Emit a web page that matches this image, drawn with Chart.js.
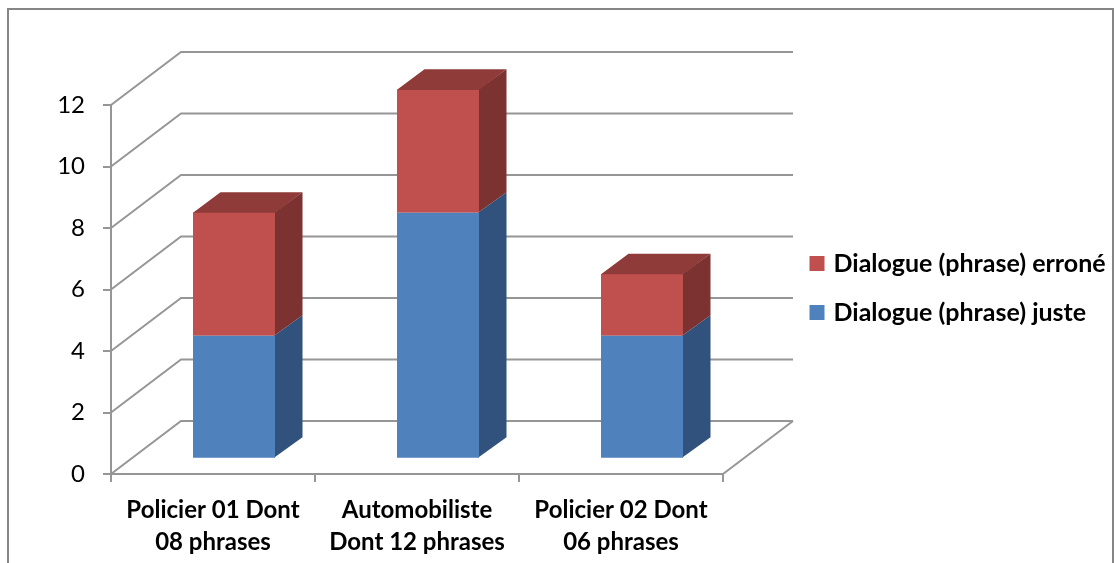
<!DOCTYPE html>
<html lang="fr">

<head>
   <meta charset="UTF-8">
   <title>Dialogues par personnage</title>
   <script src="https://cdn.jsdelivr.net/npm/chart.js@4"></script>
   <style>
      html, body { margin: 0; padding: 0; background: #fff; overflow: hidden; }
      .chart-container { position: relative; width: 1115px; height: 563px; }
      .frame { position: absolute; left: 7px; top: 8px; width: 1103px; height: 600px; border: 2px solid #868686; }
   </style>
</head>

<body>
   <div class="chart-container">
      <div class="frame"></div>
      <canvas id="myChart" width="1115" height="563" style="position:absolute;left:0;top:0"></canvas>
   </div>
   <script>
      const categories = [['Policier 01 Dont', '08 phrases'], ['Automobiliste', 'Dont 12 phrases'], ['Policier 02 Dont', '06 phrases']];
      const justeValues = [4, 8, 4];
      const erroneValues = [4, 4, 2];
      const yTicks = [0, 2, 4, 6, 8, 10, 12];

      const gridColor = '#969696';
      const fontName = 'Lato, "Open Sans", sans-serif';

      // depth of the box the chart sits in, and of each column
      const wallDx = 70, wallDy = -53;
      const barDx = 21, barDy = -15.2;
      const sideDx = 27.5, sideDy = -20.5;

      const faceColors = [
         { side: '#31527c' },
         { side: '#7b3230', top: '#8e3b39' }
      ];

      // side and top faces are drawn around the bars chart.js lays out
      const depthPlugin = {
         id: 'depth',
         afterLayout(chart) {
            // legend sits right of the box, outside the plot area
            const legend = chart.legend;
            const pad = chart.options.plugins.legend.labels.padding;
            legend.left = 813 - pad;
            legend.top = 251 - pad;
            legend.right = 1115;
            legend.bottom = 400;
         },
         beforeDatasetsDraw(chart) {
            const { ctx, chartArea, scales } = chart;

            ctx.save();
            ctx.strokeStyle = gridColor;
            ctx.lineWidth = 2;
            ctx.lineJoin = 'miter';
            yTicks.forEach(tick => {
               const y = scales.y.getPixelForValue(tick);
               ctx.beginPath();
               ctx.moveTo(chartArea.left, y);
               ctx.lineTo(chartArea.left + wallDx, y + wallDy);
               ctx.lineTo(chartArea.right + wallDx, y + wallDy);
               ctx.stroke();
            });
            const floorY = scales.y.getPixelForValue(0);
            ctx.beginPath();
            ctx.moveTo(chartArea.right, floorY);
            ctx.lineTo(chartArea.right + wallDx, floorY + wallDy);
            ctx.stroke();
            ctx.restore();

            // shift columns back from the front edge of the floor
            ctx.save();
            ctx.translate(barDx, barDy);
            chart.data.datasets.forEach((dataset, d) => {
               chart.getDatasetMeta(d).data.forEach(bar => {
                  const right = bar.x + bar.width / 2;
                  const left = bar.x - bar.width / 2;
                  // faces run 1px under the front so no seam shows
                  ctx.fillStyle = faceColors[d].side;
                  ctx.beginPath();
                  ctx.moveTo(right - 1, bar.base);
                  ctx.lineTo(right + sideDx, bar.base + sideDy);
                  ctx.lineTo(right + sideDx, bar.y + sideDy);
                  ctx.lineTo(right - 1, bar.y);
                  ctx.closePath();
                  ctx.fill();
                  if (faceColors[d].top) {
                     ctx.fillStyle = faceColors[d].top;
                     ctx.beginPath();
                     ctx.moveTo(left, bar.y + 1);
                     ctx.lineTo(left, bar.y);
                     ctx.lineTo(left + sideDx, bar.y + sideDy);
                     ctx.lineTo(right + sideDx, bar.y + sideDy);
                     ctx.lineTo(right, bar.y);
                     ctx.lineTo(right, bar.y + 1);
                     ctx.closePath();
                     ctx.fill();
                  }
               });
            });
         },
         afterDatasetsDraw(chart) {
            chart.ctx.restore();
         }
      };

      new Chart(document.getElementById('myChart'), {
         type: 'bar',
         data: {
            labels: categories,
            datasets: [{
               label: 'Dialogue (phrase) juste',
               data: justeValues,
               backgroundColor: '#4f81bd',
               barPercentage: 0.402,
               categoryPercentage: 1
            }, {
               label: 'Dialogue (phrase) erroné',
               data: erroneValues,
               backgroundColor: '#c0504d',
               barPercentage: 0.402,
               categoryPercentage: 1
            }]
         },
         plugins: [depthPlugin],
         options: {
            responsive: false,
            animation: false,
            layout: { padding: { left: 0, top: 105, right: 392, bottom: 0 } },
            plugins: {
               tooltip: { enabled: false },
               legend: {
                  position: 'chartArea',
                  align: 'start',
                  reverse: true,
                  labels: {
                     boxWidth: 8,
                     boxHeight: 8,
                     padding: 24,
                     color: '#000',
                     font: { family: fontName, size: 25, weight: 'bold', lineHeight: 1 },
                     generateLabels(chart) {
                        // thick outline gives a 15px swatch with a tight text gap
                        return Chart.defaults.plugins.legend.labels.generateLabels(chart).map(item => {
                           item.strokeStyle = item.fillStyle;
                           item.lineWidth = 7;
                           return item;
                        });
                     }
                  }
               }
            },
            scales: {
               x: {
                  stacked: true,
                  afterFit(scale) { scale.height = 89; },
                  border: { color: gridColor, width: 2 },
                  grid: { drawOnChartArea: false, color: gridColor, lineWidth: 2, tickLength: 8 },
                  ticks: {
                     color: '#000',
                     padding: 12,
                     maxRotation: 0,
                     font: { family: fontName, size: 24, weight: 'bold', lineHeight: 1.33 }
                  }
               },
               y: {
                  stacked: true,
                  min: 0,
                  max: 12,
                  afterFit(scale) { scale.width = 111; },
                  border: { color: gridColor, width: 2 },
                  grid: { drawOnChartArea: false, color: gridColor, lineWidth: 2, tickLength: 8 },
                  ticks: {
                     stepSize: 2,
                     color: '#000',
                     padding: 18,
                     font: { family: fontName, size: 24 }
                  }
               }
            }
         }
      });
   </script>
</body>

</html>
